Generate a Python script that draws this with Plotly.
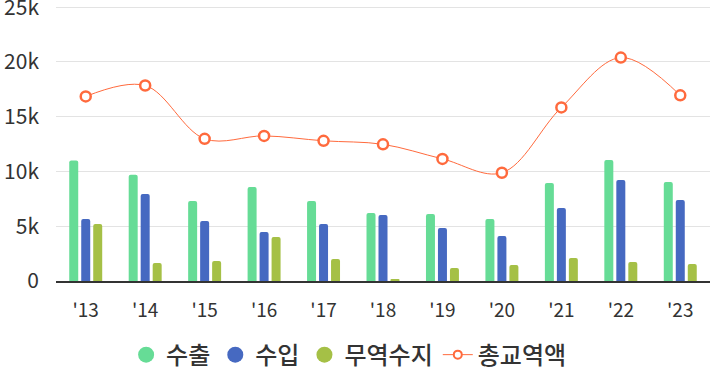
import plotly.graph_objects as go

years = ["'13", "'14", "'15", "'16", "'17", "'18", "'19", "'20", "'21", "'22", "'23"]
exports = [11000, 9700, 7300, 8580, 7300, 6210, 6120, 5660, 8950, 11050, 9040]
imports = [5660, 7940, 5480, 4470, 5200, 6030, 4840, 4110, 6660, 9220, 7400]
balance = [5200, 1640, 1830, 4020, 2010, 100, 1190, 1460, 2100, 1730, 1550]
total = [16850, 17850, 12980, 13250, 12800, 12480, 11150, 9880, 15850, 20400, 16950]

names = ["수출", "수입", "무역수지", "총교역액"]
y_tickvals = [0, 5000, 10000, 15000, 20000, 25000]
y_ticktext = ["0", "5k", "10k", "15k", "20k", "25k"]

c_exp = "#66DC96"
c_imp = "#4669C1"
c_bal = "#A5C046"
c_tot = "#FF6A3D"
FONT = "Noto Sans CJK KR"

fig = go.Figure()
for vals, nm, col in [(exports, names[0], c_exp), (imports, names[1], c_imp), (balance, names[2], c_bal)]:
    fig.add_trace(go.Bar(x=years, y=vals, name=nm, marker=dict(color=col, line=dict(width=0)),
                         showlegend=False, hoverinfo="y+name"))

fig.add_trace(go.Scatter(x=years, y=total, name=names[3], mode="lines+markers",
                         line=dict(color=c_tot, width=1, shape="spline", smoothing=1),
                         marker=dict(symbol="circle", size=10, color="white",
                                     line=dict(color=c_tot, width=2.5)),
                         showlegend=False))

# legend entries with round symbols
for nm, col in [(names[0], c_exp), (names[1], c_imp), (names[2], c_bal)]:
    fig.add_trace(go.Scatter(x=[None], y=[None], name=nm, mode="markers",
                             marker=dict(symbol="circle", size=21, color=col), showlegend=True))
fig.add_trace(go.Scatter(x=[None], y=[None], name=names[3], mode="lines+markers",
                         line=dict(color=c_tot, width=1),
                         marker=dict(symbol="circle", size=8, color="white", line=dict(color=c_tot, width=2)),
                         showlegend=True))

fig.update_layout(
    width=710, height=371,
    margin=dict(l=56, r=0, t=5, b=90, autoexpand=False),
    paper_bgcolor="white", plot_bgcolor="white",
    font=dict(family=FONT, color="#333333"),
    barmode="group", bargap=0.395, bargroupgap=0.25, barcornerradius=2,
    showlegend=True,
    legend=dict(orientation="h", xref="container", yref="container", x=0.491, xanchor="center",
                y=0.043, yanchor="middle", font=dict(size=24, color="#333333", family=FONT, weight=500),
                itemwidth=30, tracegroupgap=0, itemsizing="trace"),
    xaxis=dict(range=[-0.5, len(years) - 0.5], showgrid=False, showline=True,
               linecolor="#333333", linewidth=1.5,
               ticks="", tickfont=dict(size=19, color="#333333"), fixedrange=True,
               ticklabelstandoff=11, automargin=False),
    yaxis=dict(range=[0, 25200], tickvals=y_tickvals, ticktext=y_ticktext,
               showgrid=True, gridcolor="#E3E3E3", gridwidth=1, zeroline=False,
               showline=False, ticks="", ticklabelstandoff=16, automargin=False,
               ticklabeloverflow="allow",
               tickfont=dict(size=21, color="#333333"), fixedrange=True),
)

fig.write_html("out.html", config={"displayModeBar": False},
               post_script="document.body.style.margin='0';document.body.style.overflow='hidden';")
